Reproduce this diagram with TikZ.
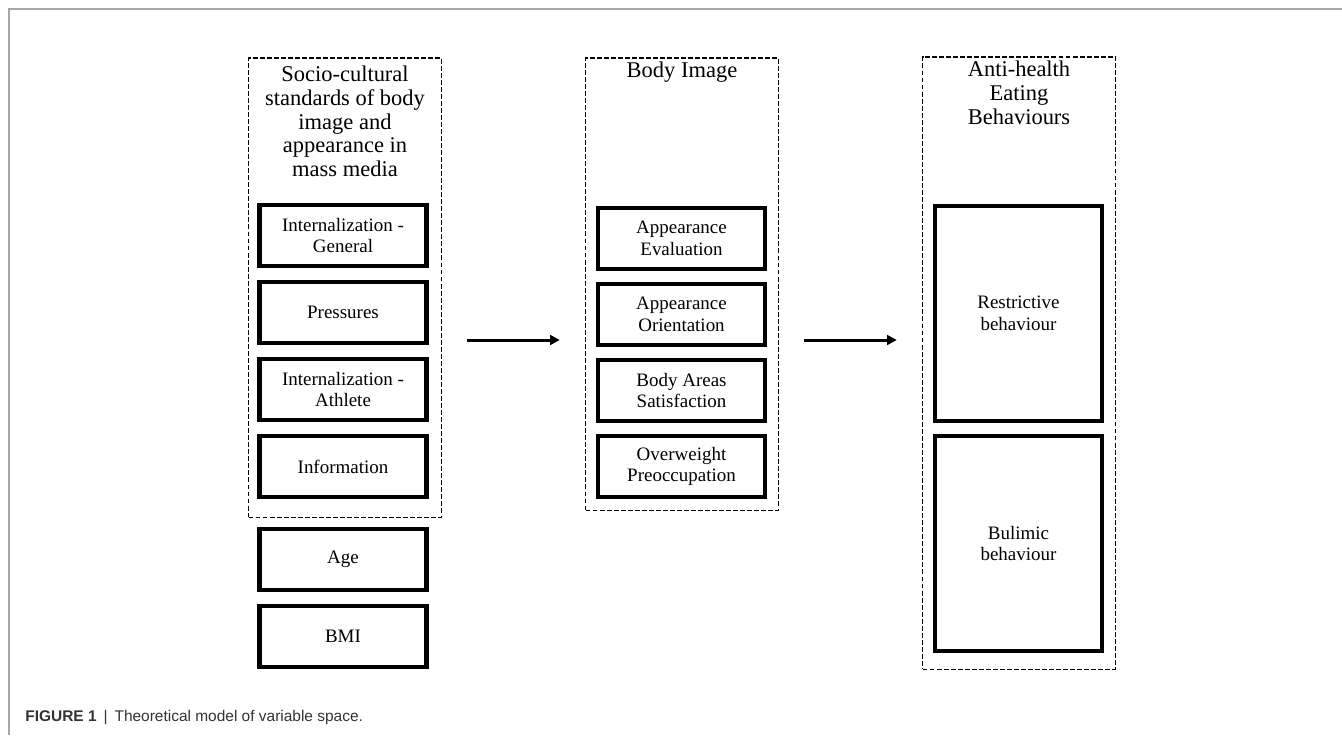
\documentclass[tikz,border=0pt]{standalone}
\usepackage{fontspec}
\setmainfont{Liberation Serif}
\newfontfamily\captionfont{Liberation Sans}
\usetikzlibrary{arrows.meta, positioning}

\tikzset{
  group/.style={draw, dashed, dash pattern=on 2.8pt off 1.2pt, line width=0.8pt, minimum width=3.86cm, inner sep=0pt},
  grouptitle/.style={anchor=north, align=center, inner sep=0pt, font=\fontsize{12.8}{13.4}\selectfont},
  var/.style={draw, line width=2.3pt, minimum width=3.34cm, minimum height=1.22cm, align=center, inner sep=0pt, font=\fontsize{10.8}{12.3}\selectfont},
  link/.style={-{Triangle[length=5.5pt, width=5.5pt]}, line width=1.7pt, shorten <=0.5cm, shorten >=0.5cm}
}

\begin{document}
\begin{tikzpicture}[x=0.02cm, y=-0.02cm]
    \useasboundingbox (0,0) rectangle (1342,735);
    % Marco
    \draw[gray!70, line width=1.1pt] (9,735) -- (9,9) -- (1342,9);

    % Grupos punteados
    \node[group, minimum height=9.19cm] (media) at (345,287.5) {};
    \node[group, minimum height=9.05cm] (image) at (682,284) {};
    \node[group, minimum height=12.25cm] (eating) at (1019,363) {};

    \node[grouptitle] (mediaT) at (345,66) {Socio-cultural\\ standards of body\\ image and\\ appearance in\\ mass media};
    \node[grouptitle] (imageT) at (682,62) {Body Image};
    \node[grouptitle] (eatingT) at (1019,61) {Anti-health\\ Eating\\ Behaviours};

    % Variables
    \node[var] (intgen) at (343,235.5) {Internalization -\\ General};
    \node[var, below=0.24cm of intgen] (press) {Pressures};
    \node[var, below=0.24cm of press] (intath) {Internalization -\\ Athlete};
    \node[var, below=0.24cm of intath] (info) {Information};
    \node[var, below=0.56cm of info] (age) {Age};
    \node[var, below=0.24cm of age] (bmi) {BMI};

    \node[var] (appeval) at (681.5,238.5) {Appearance\\ Evaluation};
    \node[var, below=0.22cm of appeval] (appori) {Appearance\\ Orientation};
    \node[var, below=0.22cm of appori] (bodyar) {Body Areas\\ Satisfaction};
    \node[var, below=0.22cm of bodyar] (overw) {Overweight\\ Preoccupation};

    \node[var, minimum height=4.3cm] (restr) at (1018.5,313.5) {Restrictive\\ behaviour};
    \node[var, minimum height=4.3cm, below=0.22cm of restr] (bulim) {Bulimic\\ behaviour};

    % Flechas
    \coordinate (level) at (0,340);
    \draw[link] (media.east |- level) -- (image.west |- level);
    \draw[link] (image.east |- level) -- (eating.west |- level);

    % Pie de figura
    \node[anchor=west, inner sep=0pt, text=black!80, font=\captionfont\fontsize{8.8}{10}\selectfont] (caption) at (25,718) {\textbf{FIGURE 1}\hspace{0.45em}|\hspace{0.45em}Theoretical model of variable space.};
\end{tikzpicture}
\end{document}
